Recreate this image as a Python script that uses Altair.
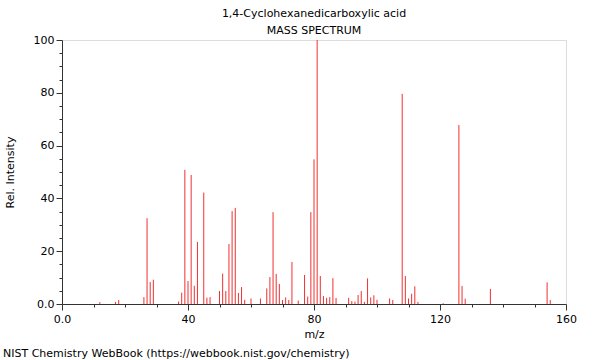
import altair as alt
import pandas as pd

masses = [12, 17, 18, 26, 27, 28, 29, 37, 38, 39, 40, 41, 42, 43, 45, 46, 47,
          50, 51, 52, 53, 54, 55, 56, 57, 58, 60, 63, 65, 66, 67, 68, 69, 70,
          71, 72, 73, 75, 77, 78, 79, 80, 81, 82, 83, 84, 85, 86, 87, 91, 92,
          93, 94, 95, 96, 97, 98, 99, 100, 104, 105, 108, 109, 110, 111, 112,
          113, 121, 126, 127, 128, 136, 154, 155]
intensities = [0.7, 0.8, 1.5, 2.6, 32.5, 8.3, 9.2, 0.9, 4.3, 50.8, 8.7, 48.9,
               6.9, 23.5, 42.2, 2.4, 2.6, 4.9, 11.5, 4.9, 22.7, 35.2, 36.4, 4.2,
               6.4, 1.6, 2.1, 2.1, 5.9, 10.2, 34.8, 11.4, 7.6, 1.5, 2.5, 1.5,
               15.9, 1.3, 11.0, 2.8, 34.8, 54.8, 100.0, 10.6, 3.0, 2.3, 2.6,
               9.8, 2.3, 2.3, 1.1, 0.9, 3.4, 4.9, 0.8, 9.7, 2.5, 3.3, 1.6, 2.1,
               1.5, 79.6, 10.6, 2.1, 3.9, 6.7, 0.8, 0.3, 67.8, 6.8, 2.0, 5.7,
               8.2, 1.5]

x_ticks = list(range(0, 161, 10))
y_ticks = list(range(0, 101, 5))
title_lines = ["1,4-Cyclohexanedicarboxylic acid", "MASS SPECTRUM"]
footer = "NIST Chemistry WebBook (https://webbook.nist.gov/chemistry)"

df = pd.DataFrame({"mz": masses, "intensity": intensities, "base": [0] * len(masses)})

FONT = "DejaVu Sans"

bars = alt.Chart(df).mark_rule(color="#f03030", strokeWidth=1).encode(
    x=alt.X("mz:Q", scale=alt.Scale(domain=[0, 160], nice=False, zero=False, padding=0),
            axis=alt.Axis(values=x_ticks, title="m/z",
                          labelExpr="datum.value === 0 ? '0.0' : (datum.value % 40 === 0 ? datum.label : '')",
                          tickSize={"condition": {"test": "datum.value % 40 === 0", "value": 6}, "value": 3},
                          grid=False, labelFont=FONT, titleFont=FONT, labelFlush=False,
                          labelOverlap=False,
                          labelFontSize=11, titleFontSize=11, titleFontWeight="normal",
                          labelColor="#000", titleColor="#000", domainColor="#333",
                          tickColor="#333", labelPadding=3, titlePadding=4)),
    y=alt.Y("base:Q", scale=alt.Scale(domain=[0, 100], nice=False, padding=0),
            axis=alt.Axis(values=y_ticks, title="Rel. Intensity",
                          labelExpr="datum.value === 0 ? '0.0' : (datum.value % 20 === 0 ? datum.label : '')",
                          tickSize={"condition": {"test": "datum.value % 20 === 0", "value": 6}, "value": 3},
                          grid=False, labelFont=FONT, titleFont=FONT, labelFlush=False,
                          labelOverlap=False,
                          labelFontSize=11, titleFontSize=11, titleFontWeight="normal",
                          labelColor="#000", titleColor="#000", domainColor="#333",
                          tickColor="#333", labelPadding=2, titlePadding=18)),
    y2="intensity:Q",
)

foot = alt.Chart(pd.DataFrame({"t": [footer]})).mark_text(
    align="left", baseline="alphabetic", font=FONT, fontSize=11, color="#000"
).encode(x=alt.value(-59), y=alt.value(317), text="t:N")

chart = alt.layer(bars, foot).properties(
    width=504, height=264,
    padding={"left": 62, "top": 40, "right": 34, "bottom": 56},
    autosize=alt.AutoSizeParams(type="none"),
    title=alt.TitleParams(text=title_lines, font=FONT, fontSize=11,
                          fontWeight="normal", color="#000", anchor="middle",
                          offset=-2, lineHeight=17),
).configure_view(stroke="#333", strokeWidth=1).configure(background="white")

chart.save("out.html", embed_options={"renderer": "svg", "actions": False})
